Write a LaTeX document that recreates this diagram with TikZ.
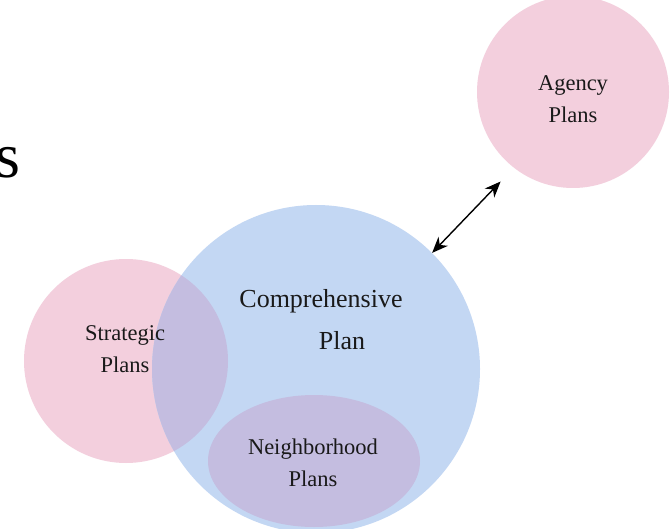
\documentclass[tikz,border=0pt]{standalone}
\usepackage{fontspec}
\setmainfont{Liberation Serif}
\usetikzlibrary{arrows.meta,shapes.geometric}
\definecolor{pinkc}{HTML}{F3CFDD}
\definecolor{bluec}{HTML}{C3D7F3}
\definecolor{lavc}{HTML}{C4BDE0}
\begin{document}
\begin{tikzpicture}[x=1pt,y=-1pt,
  disc/.style={circle, inner sep=0pt, draw=none},
  lbl/.style={align=center, inner sep=0pt, font=\fontsize{22.5}{32}\selectfont, text=black!90},
  dbl/.style={{Stealth[length=16pt,width=13pt,inset=5pt]}-{Stealth[length=16pt,width=13pt,inset=5pt]}, line width=1.4pt}]
\useasboundingbox (0,0) rectangle (671,529);
\clip (0,0) rectangle (671,529);
\fill[white] (0,0) rectangle (671,529);
% shapes
\node[disc, fill=pinkc, minimum size=204pt] (strat) at (126,361) {};
\node[disc, fill=bluec, minimum size=328pt] (comp) at (316,369) {};
\begin{scope}
  \clip (strat.center) circle (102pt);
  \fill[lavc] (comp.center) circle (164pt);
\end{scope}
\node[disc, fill=pinkc, minimum size=192pt] (agency) at (573,92) {};
\node[ellipse, fill=lavc, inner sep=0pt, minimum width=212pt, minimum height=132pt] (nbhd) at (314,461) {};
% texts
\node[anchor=base east, inner sep=0pt, font=\fontsize{64}{64}\selectfont] (title) at (21,178) {s};
\node[lbl] (agencyt) at (573,99) {Agency\\Plans};
\node[lbl] (stratt) at (125,349) {Strategic\\Plans};
\node[lbl] (nbhdt) at (313,463) {Neighborhood\\Plans};
\node[lbl, font=\fontsize{26}{42}\selectfont] (compt) at (321,320) {Comprehensive\\\hspace*{42pt}Plan};
% connector
\draw[dbl, shorten >=19pt] (comp.45.5) -- (agency.232);
\end{tikzpicture}
\end{document}
